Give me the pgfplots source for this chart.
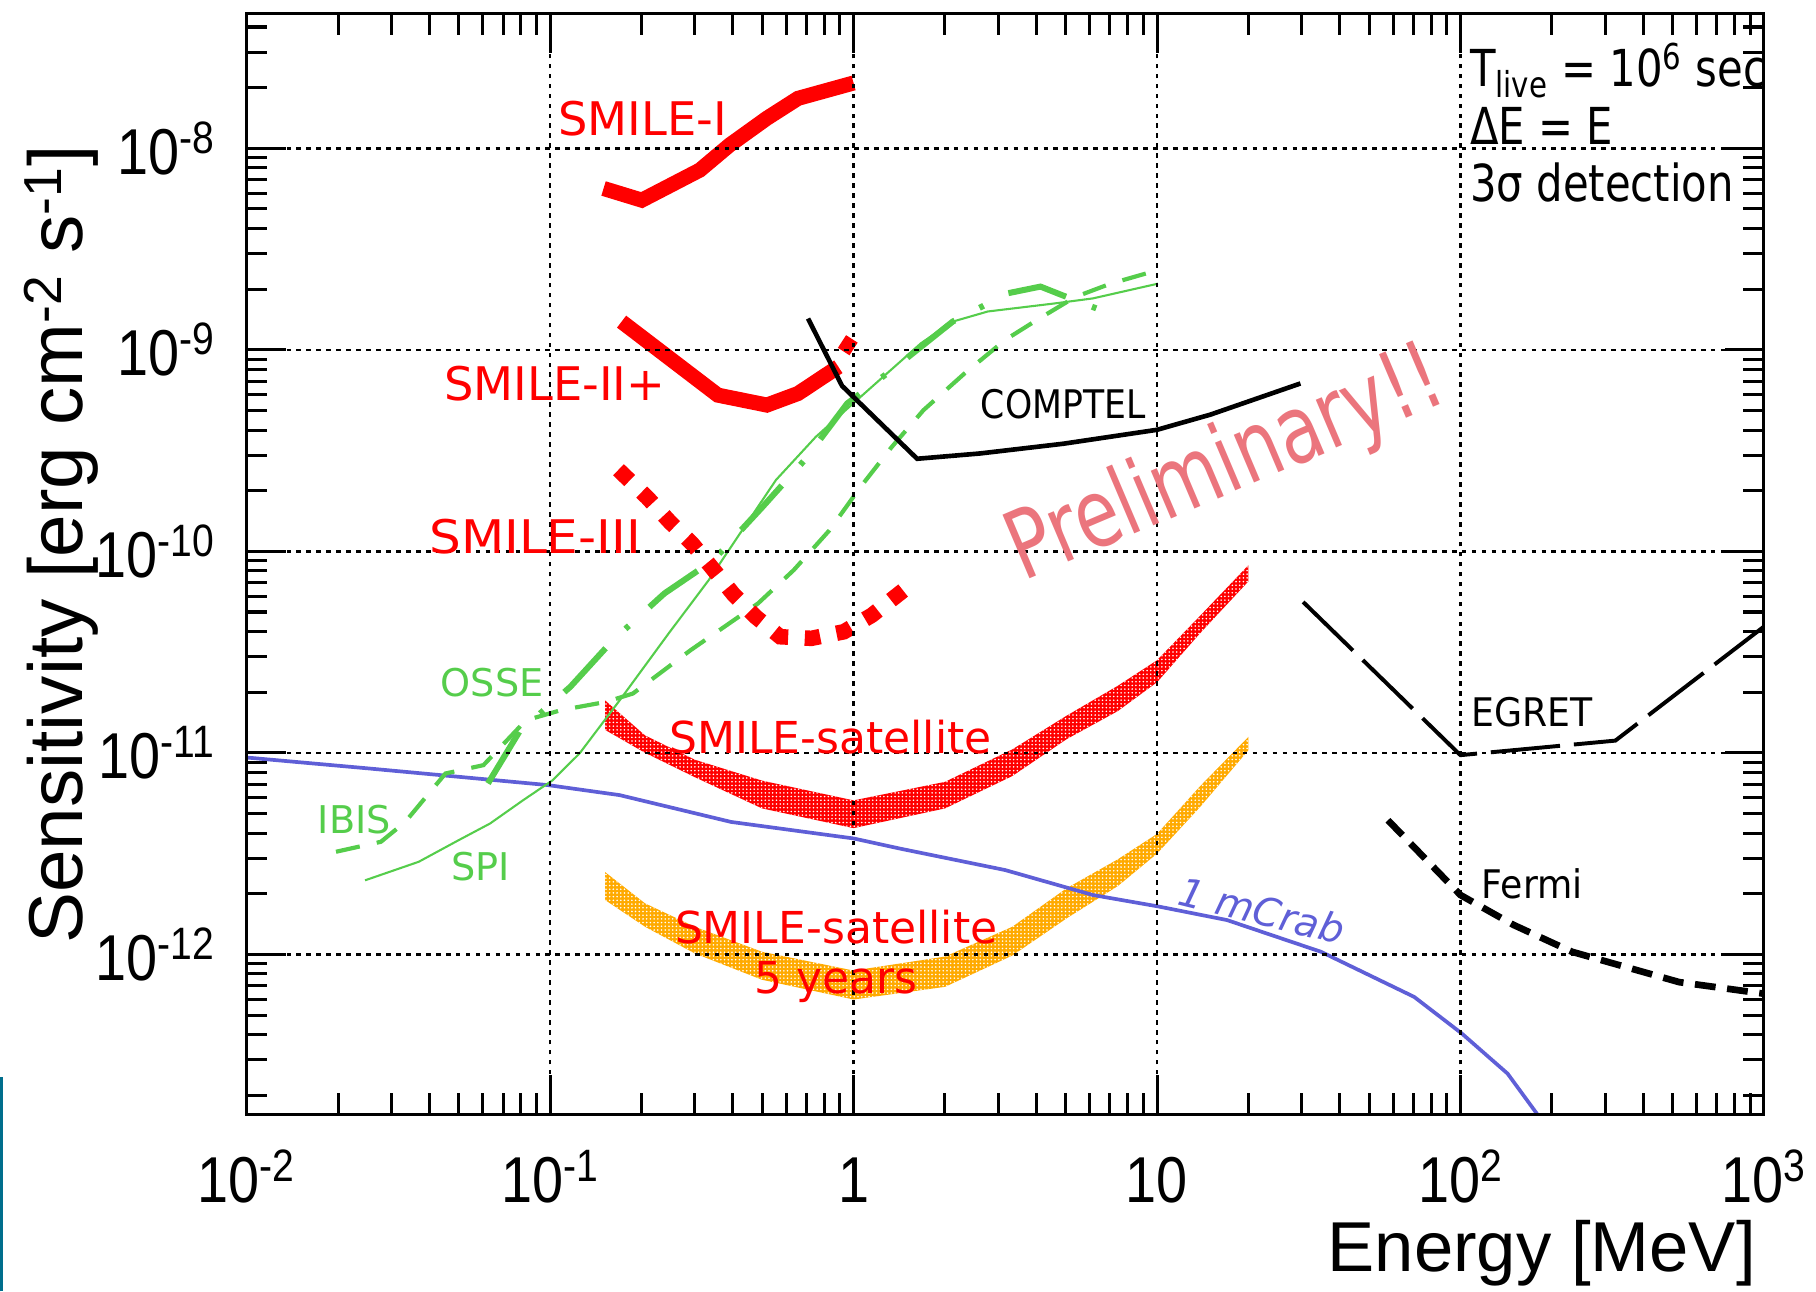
\documentclass[border=0pt]{standalone}
\usepackage{fontspec}
\setmainfont{Liberation Sans}
\newfontfamily\comic{DejaVu Sans}
\usepackage{pgfplots}
\pgfplotsset{compat=1.18}
\usetikzlibrary{patterns}
\definecolor{smred}{RGB}{255,0,0}
\definecolor{sgreen}{RGB}{85,205,75}
\definecolor{crabblue}{RGB}{95,95,215}
\definecolor{sorange}{RGB}{255,170,0}
\definecolor{prelim}{RGB}{235,117,125}
\definecolor{slideblue}{RGB}{0,110,140}
\pgfdeclarepatternformonly{finedots}{\pgfpoint{-0.1pt}{-0.1pt}}{\pgfpoint{1.7pt}{1.7pt}}{\pgfpoint{1.6pt}{1.6pt}}{\pgfpathcircle{\pgfpoint{0.8pt}{0.8pt}}{0.38pt}\pgfusepath{fill}}
\newcommand{\tl}[1]{\scalebox{0.86}[1]{10\textsuperscript{#1}}}
\newcommand{\tn}[1]{\scalebox{0.86}[1]{#1}}
\begin{document}
\begin{tikzpicture}[x=0.5pt,y=0.5pt]
\useasboundingbox (0,0) rectangle (1568,1115);
\draw[slideblue, line width=1.2pt] (1.5,0) -- (1.5,185);
\begin{axis}[
  at={(106.5pt,76.5pt)}, anchor=south west,
  width=655pt, height=475pt, scale only axis,
  xmode=log, ymode=log,
  xmin=1e-2, xmax=1e3, ymin=1.61e-13, ymax=4.645e-8,
  xtick={1e-2,1e-1,1,10,100,1000},
  xticklabels={\tl{-2},\tl{-1},\tn{1},\tn{10},\tl{2},\tl{3}},
  ytick={1e-12,1e-11,1e-10,1e-9,1e-8},
  yticklabels={\tl{-12},\tl{-11},\tl{-10},\tl{-9},\tl{-8}},
  minor xtick={0.02,0.03,0.04,0.05,0.06,0.07,0.08,0.09,0.2,0.3,0.4,0.5,0.6,0.7,0.8,0.9,2,3,4,5,6,7,8,9,20,30,40,50,60,70,80,90,200,300,400,500,600,700,800,900},
  minor ytick={2e-13,3e-13,4e-13,5e-13,6e-13,7e-13,8e-13,9e-13,2e-12,3e-12,4e-12,5e-12,6e-12,7e-12,8e-12,9e-12,2e-11,3e-11,4e-11,5e-11,6e-11,7e-11,8e-11,9e-11,2e-10,3e-10,4e-10,5e-10,6e-10,7e-10,8e-10,9e-10,2e-9,3e-9,4e-9,5e-9,6e-9,7e-9,8e-9,9e-9,2e-8,3e-8,4e-8},
  grid=major,
  major grid style={black, line width=1.1pt, dash pattern=on 2pt off 2.3pt},
  axis line style={black, line width=1.3pt},
  every tick/.style={black, line width=1.3pt},
  major tick length=17pt, minor tick length=9pt,
  tick align=inside,
  axis on top,
  tick label style={font=\fontsize{28}{30}\selectfont},
  xticklabel style={anchor=base, yshift=-38pt, inner sep=0pt},
  yticklabel style={anchor=east, xshift=-13.5pt, inner sep=0pt},
]
% SMILE-satellite band (red)
\addplot[draw=none, fill=smred, postaction={pattern=finedots, pattern color=white}] coordinates {
(0.1518,1.82e-11) (0.2056,1.22e-11) (0.300,9.24e-12) (0.4995,7.28e-12) (1.0,5.81e-12) (2.002,7.18e-12) (3.334,1.04e-11) (5.04,1.53e-11) (7.42,2.15e-11) (10,2.88e-11) (13.84,4.77e-11) (20.0,8.53e-11)
(20.0,7.09e-11) (13.84,3.91e-11) (10,2.24e-11) (7.42,1.61e-11) (5.04,1.17e-11) (3.334,7.67e-12) (2.002,5.30e-12) (1.0,4.23e-12) (0.4995,5.30e-12) (0.300,7.57e-12) (0.2056,1.0e-11) (0.1518,1.30e-11)
};
% SMILE-satellite 5 years band (orange)
\addplot[draw=none, fill=sorange, postaction={pattern=finedots, pattern color=white}] coordinates {
(0.1518,2.56e-12) (0.2056,1.79e-12) (0.300,1.37e-12) (0.4995,1.03e-12) (1.0,8.31e-13) (2.002,9.75e-13) (3.334,1.37e-12) (5.04,2.13e-12) (7.42,2.96e-12) (10,3.96e-12) (13.84,6.81e-12) (20.0,1.20e-11)
(20.0,1.03e-11) (13.84,5.37e-12) (10,3.16e-12) (7.42,2.18e-12) (5.04,1.51e-12) (3.334,9.86e-13) (2.002,6.90e-13) (1.0,5.97e-13) (0.4995,7.48e-13) (0.300,1.01e-12) (0.2056,1.37e-12) (0.1518,1.86e-12)
};
% 1 mCrab
\addplot[crabblue, line width=1.6pt] coordinates {
(0.01,9.48e-12) (0.0254,8.36e-12) (0.0982,6.92e-12) (0.1694,6.17e-12) (0.395,4.54e-12) (1.0,3.76e-12) (1.42,3.35e-12) (3.16,2.62e-12) (6.15,1.97e-12) (10.07,1.73e-12) (17.0,1.48e-12) (34.7,1.03e-12) (70.4,6.15e-13) (101,4.05e-13) (143,2.56e-13) (178.6,1.62e-13) (185,1.45e-13)
};
% SPI
\addplot[sgreen, line width=0.9pt] coordinates {
(0.02455,2.33e-12) (0.0369,2.88e-12) (0.0500,3.69e-12) (0.0634,4.46e-12) (0.0816,5.83e-12) (0.1019,7.31e-12) (0.125,9.93e-12) (0.1694,1.82e-11) (0.246,3.92e-11) (0.333,7.19e-11) (0.423,1.23e-10) (0.555,2.26e-10) (0.751,3.70e-10) (1.0,5.44e-10) (1.67,1.08e-9) (2.12,1.38e-9) (2.77,1.55e-9) (4.61,1.70e-9) (6.15,1.80e-9) (10.07,2.13e-9)
};
% IBIS
\addplot[sgreen, line width=1.8pt, dash pattern=on 10.5pt off 7.5pt] coordinates {
(0.0197,3.23e-12) (0.0277,3.62e-12) (0.0333,4.54e-12) (0.0452,7.90e-12) (0.0603,8.69e-12) (0.0832,1.45e-11) (0.1088,1.63e-11) (0.1528,1.79e-11) (0.1875,1.97e-11) (0.291,3.24e-11) (0.484,5.51e-11) (0.635,8.07e-11) (0.832,1.27e-10) (1.055,2.09e-10) (1.337,3.30e-10) (1.70,5.02e-10) (2.32,7.63e-10) (3.16,1.12e-9) (4.03,1.41e-9) (5.38,1.83e-9) (7.03,2.13e-9) (10.0,2.48e-9)
};
% OSSE
\addplot[sgreen, line width=2.6pt, dash pattern=on 26pt off 12pt on 2pt off 12pt] coordinates {
(0.0624,7.05e-12) (0.0791,1.27e-11) (0.1167,2.13e-11) (0.161,3.62e-11) (0.238,6.18e-11) (0.345,9.04e-11) (0.501,1.66e-10) (0.690,2.84e-10) (0.953,5.42e-10) (1.38,8.24e-10) (2.12,1.38e-9) (3.23,1.91e-9) (4.13,2.06e-9) (5.38,1.76e-9) (7.03,1.51e-9)
};
% SMILE-I
\addplot[smred, line width=6.5pt] coordinates {
(0.150,6.32e-9) (0.2005,5.53e-9) (0.3115,7.80e-9) (0.391,1.04e-8) (0.518,1.41e-8) (0.656,1.77e-8) (1.0,2.11e-8)
};
% SMILE-II+
\addplot[smred, line width=6.5pt] coordinates {
(0.172,1.38e-9) (0.357,5.96e-10) (0.518,5.32e-10) (0.656,6.07e-10) (0.891,8.24e-10)
};
\addplot[smred, line width=6.5pt] coordinates {(0.916,1.10e-9) (1.0,1.01e-9)};
% SMILE-III
\addplot[smred, line width=6.7pt, dash pattern=on 6.7pt off 7.2pt] coordinates {
(0.168,2.54e-10) (0.209,1.85e-10) (0.248,1.40e-10) (0.294,1.09e-10) (0.343,8.22e-11) (0.402,6.12e-11) (0.476,4.73e-11) (0.573,3.77e-11) (0.726,3.70e-11) (0.929,3.99e-11) (1.149,4.82e-11) (1.457,6.39e-11)
};
% COMPTEL
\addplot[black, line width=2pt] coordinates {
(0.708,1.43e-9) (0.916,6.63e-10) (1.62,2.88e-10) (2.61,3.06e-10) (4.91,3.42e-10) (10,4.01e-10) (15.0,4.77e-10) (29.7,6.81e-10)
};
% EGRET
\addplot[black, line width=1.7pt, dash pattern=on 30pt off 6pt] coordinates {
(30.3,5.61e-11) (100,9.74e-12) (324,1.15e-11) (1000,4.23e-11)
};
% Fermi
\addplot[black, line width=2.9pt, dash pattern=on 9pt off 5pt] coordinates {
(57.7,4.63e-12) (100,1.97e-12) (149.6,1.40e-12) (233,1.03e-12) (526,7.28e-13) (1000,6.38e-13)
};
\end{axis}
% axis titles
\node[rotate=90, anchor=base, font=\fontsize{33}{36}\selectfont] at (71,645) {Sensitivity [erg cm\textsuperscript{-2} s\textsuperscript{-1}]};
\node[anchor=base east, font=\fontsize{30.5}{33}\selectfont] at (1523,17) {Energy [MeV]};
% red labels
\begin{scope}[every node/.style={text=smred, anchor=base, font=\comic\fontsize{20}{22}\selectfont}]
\node at (555,998.4) {SMILE-I};
\node at (479,769.6) {SMILE-II+};
\node at (462,637.2) {\scalebox{1.08}[1]{SMILE-III}};
\node[font=\comic\fontsize{19}{21}\selectfont] at (717,464.5) {SMILE-satellite};
\node[font=\comic\fontsize{19}{21}\selectfont] at (722,300.4) {SMILE-satellite};
\node[font=\comic\fontsize{19}{21}\selectfont] at (722,257) {5 years};
\end{scope}
% green labels
\begin{scope}[every node/.style={text=sgreen, anchor=base, font=\comic\fontsize{16.5}{18}\selectfont}]
\node at (425,513.4) {OSSE};
\node at (306,395.4) {IBIS};
\node at (415,355) {SPI};
\end{scope}
% black labels
\begin{scope}[every node/.style={text=black, anchor=base, font=\comic\fontsize{17}{19}\selectfont}]
\node at (918,753.8) {\scalebox{0.88}[1]{COMPTEL}};
\node at (1323,487.5) {\scalebox{0.92}[1]{EGRET}};
\node at (1323,339.3) {\scalebox{0.92}[1]{Fermi}};
\end{scope}
\begin{scope}[every node/.style={text=black, anchor=base west, inner sep=0pt, font=\comic\fontsize{22}{24}\selectfont}]
\node at (1269,1040) {\scalebox{0.82}[1]{T\textsubscript{live} = 10\textsuperscript{6} sec}};
\node at (1269,990) {\scalebox{0.82}[1]{ΔE = E}};
\node at (1269,940.8) {\scalebox{0.82}[1]{3σ detection}};
\end{scope}
\node[rotate=-14, text=crabblue, font=\comic\itshape\fontsize{17}{19}\selectfont] at (1090,329) {1 mCrab};
\node[rotate=23, text=prelim, font=\comic\fontsize{31}{36}\selectfont] at (1059,712) {\scalebox{1}[1.32]{Preliminary!!}};
\end{tikzpicture}
\end{document}
